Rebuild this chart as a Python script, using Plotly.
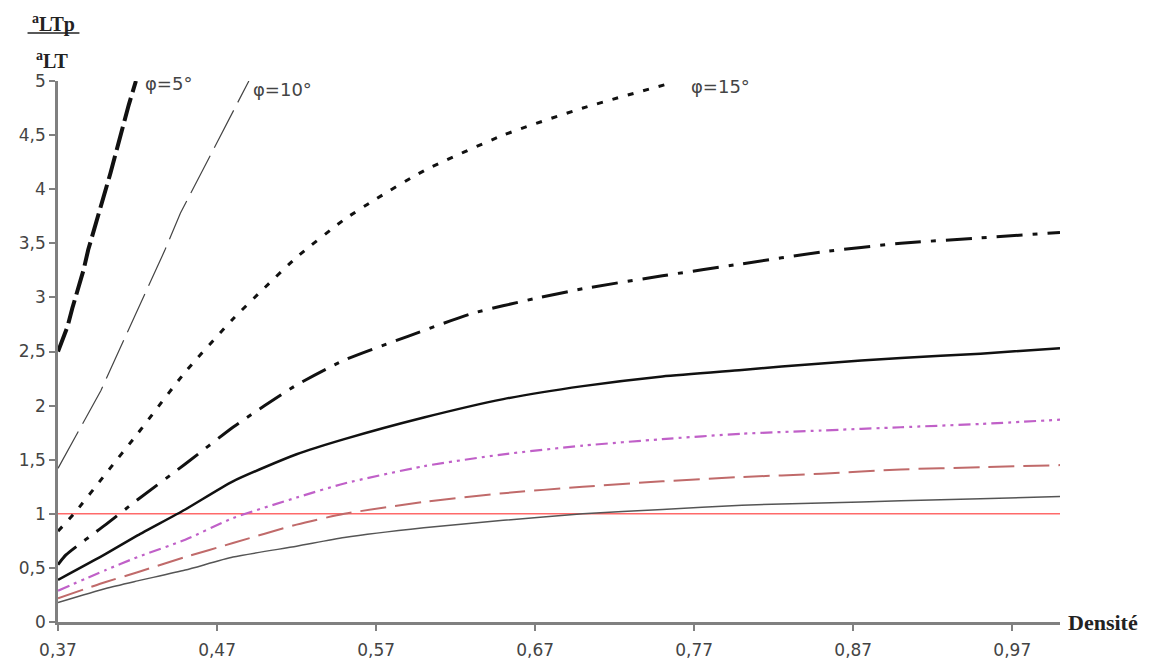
import plotly.graph_objects as go

# ---- data ----
x_ticks = [0.37, 0.47, 0.57, 0.67, 0.77, 0.87, 0.97]
x_tick_labels = ["0,37", "0,47", "0,57", "0,67", "0,77", "0,87", "0,97"]
y_ticks = [0, 0.5, 1, 1.5, 2, 2.5, 3, 3.5, 4, 4.5, 5]
y_tick_labels = ["0", "0,5", "1", "1,5", "2", "2,5", "3", "3,5", "4", "4,5", "5"]

x_phi5 = [0.37, 0.376, 0.379, 0.386, 0.389, 0.403, 0.4145, 0.419]
y_phi5 = [2.50, 2.73, 2.90, 3.25, 3.44, 4.15, 4.78, 5.00]

x_phi10 = [0.37, 0.397, 0.418, 0.437, 0.447, 0.46, 0.49]
y_phi10 = [1.42, 2.14, 2.82, 3.43, 3.78, 4.15, 5.00]

x_phi15 = [0.37, 0.38, 0.40, 0.42, 0.45, 0.48, 0.50, 0.52, 0.55, 0.57, 0.60, 0.65, 0.70, 0.755]
y_phi15 = [0.84, 1.00, 1.37, 1.74, 2.31, 2.80, 3.09, 3.37, 3.72, 3.91, 4.17, 4.50, 4.75, 4.98]

x_phi20 = [0.37, 0.375, 0.40, 0.42, 0.45, 0.48, 0.50, 0.52, 0.55, 0.59, 0.63, 0.67, 0.70,
           0.75, 0.80, 0.85, 0.90, 0.95, 1.00]
y_phi20 = [0.53, 0.62, 0.90, 1.13, 1.46, 1.80, 2.00, 2.19, 2.42, 2.64, 2.85, 2.99, 3.08,
           3.20, 3.31, 3.42, 3.50, 3.55, 3.60]

x_grid = [0.37, 0.40, 0.42, 0.45, 0.48, 0.52, 0.55, 0.60, 0.65, 0.70, 0.75, 0.80, 0.85, 0.90, 0.95, 1.00]
y_phi25 = [0.39, 0.63, 0.80, 1.04, 1.30, 1.55, 1.69, 1.89, 2.06, 2.18, 2.27, 2.33, 2.39, 2.44, 2.48, 2.53]
y_phi30 = [0.29, 0.48, 0.60, 0.76, 0.96, 1.15, 1.28, 1.44, 1.55, 1.63, 1.69, 1.74, 1.77, 1.80, 1.83, 1.87]
y_phi35 = [0.22, 0.37, 0.46, 0.60, 0.73, 0.90, 1.00, 1.11, 1.19, 1.25, 1.30, 1.34, 1.37, 1.41, 1.43, 1.45]
y_phi40 = [0.18, 0.31, 0.38, 0.48, 0.60, 0.70, 0.78, 0.87, 0.94, 1.00, 1.04, 1.08, 1.10, 1.12, 1.14, 1.16]

ref_x = [0.37, 1.00]
ref_y = [1, 1]

label_texts = ["φ=5°", "φ=10°", "φ=15°", "φ=20°", "φ=25°", "φ=30°", "φ=35°", "φ=40°"]
label_x = [0.4233, 0.4914, 0.767, 1.0097, 1.0105, 1.013, 1.013, 1.015]
label_y = [4.98, 4.92, 4.95, 3.60, 2.51, 1.91, 1.46, 1.16]

# ---- figure ----
fig = go.Figure()

def add_line(x, y, color, width, dash, shape="spline"):
    fig.add_trace(go.Scatter(x=x, y=y, mode="lines", showlegend=False,
                             line=dict(color=color, width=width, dash=dash,
                                       shape=shape, smoothing=0.6),
                             hoverinfo="skip"))

add_line(ref_x, ref_y, "#ff6a6a", 1.6, "solid", "linear")
add_line(x_grid, y_phi40, "#555555", 1.5, "solid")
add_line(x_grid, y_phi35, "#c06a6a", 2, "26px,9px")
add_line(x_grid, y_phi30, "#c060c8", 2.2, "12px,5px,3px,5px,3px,5px")
add_line(x_grid, y_phi25, "#111111", 2.5, "solid")
add_line(x_phi20, y_phi20, "#111111", 3, "26px,10px,5px,10px")
add_line(x_phi15, y_phi15, "#111111", 3, "6px,10px")
add_line(x_phi10, y_phi10, "#444444", 1.2, "42px,9px", "linear")
add_line(x_phi5, y_phi5, "#111111", 4, "24px,6px", "linear")

for t, lx, ly in zip(label_texts, label_x, label_y):
    fig.add_annotation(x=lx, y=ly, xref="x", yref="y", text=t, showarrow=False,
                       xanchor="left", yanchor="middle",
                       font=dict(family="DejaVu Sans", size=18, color="#444444"))

# y-axis title as fraction
fig.add_annotation(x=-0.0045, y=1.1054, xref="paper", yref="paper",
                   text="<b><sup>a</sup>LTp</b>", showarrow=False,
                   xanchor="center", yanchor="middle",
                   font=dict(family="Liberation Serif", size=20, color="#222222"))
fig.add_annotation(x=-0.0055, y=1.0387, xref="paper", yref="paper",
                   text="<b><sup>a</sup>LT</b>", showarrow=False,
                   xanchor="center", yanchor="middle",
                   font=dict(family="Liberation Serif", size=20, color="#222222"))
fig.add_shape(type="line", xref="paper", yref="paper",
              x0=-0.0304, x1=0.0214, y0=1.0888, y1=1.0888,
              line=dict(color="#222222", width=1.5))

# x-axis title
fig.add_annotation(x=1.0, y=0, xref="paper", yref="paper",
                   text="<b>Densité</b>", showarrow=False,
                   xanchor="left", yanchor="middle", xshift=6,
                   font=dict(family="Liberation Serif", size=22, color="#222222"))

# the page adds an 8px body margin, so the figure is placed at (8, 8)
fig.update_layout(
    width=1152, height=661,
    margin=dict(l=49.5, r=100, t=73, b=47.3, autoexpand=False),
    paper_bgcolor="white", plot_bgcolor="white",
    showlegend=False,
)
fig.update_xaxes(range=[0.37, 1.0], tickvals=x_ticks, ticktext=x_tick_labels,
                 automargin=False,
                 showgrid=False, zeroline=False, showline=True,
                 linecolor="#808080", linewidth=2.5,
                 ticks="outside", ticklen=6, tickwidth=1.5, tickcolor="#808080",
                 ticklabelstandoff=5,
                 tickfont=dict(family="DejaVu Sans", size=17, color="#444444"))
fig.update_yaxes(range=[0, 5], tickvals=y_ticks, ticktext=y_tick_labels,
                 automargin=False,
                 showgrid=False, zeroline=False, showline=True,
                 linecolor="#808080", linewidth=2.5,
                 ticks="outside", ticklen=6, tickwidth=1.5, tickcolor="#808080",
                 tickfont=dict(family="DejaVu Sans", size=17, color="#444444"))

fig.write_html("out.html")
